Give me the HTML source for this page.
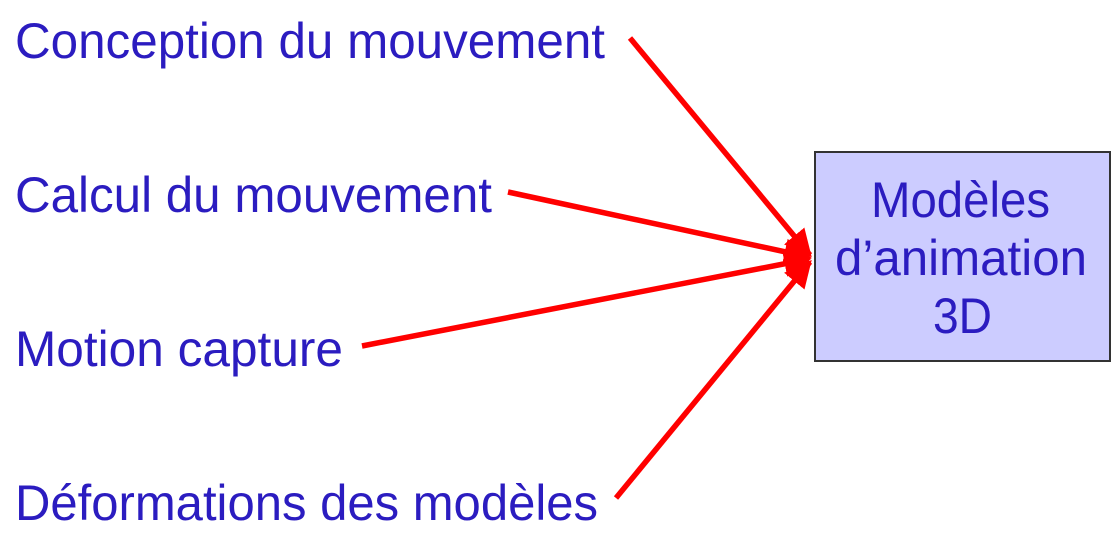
<!DOCTYPE html>
<html><head><meta charset="utf-8"><style>
html,body{margin:0;padding:0;background:#fff;width:1112px;height:539px;overflow:hidden}
</style></head><body>
<svg width="1112" height="539" xmlns="http://www.w3.org/2000/svg" style="display:block">
<defs>
<marker id="a" markerWidth="6" markerHeight="6" refX="4.5" refY="3" orient="auto" markerUnits="strokeWidth">
<path d="M0,0.6 L5,3 L0,5.4 Z" fill="#ff0000"/>
</marker>
</defs>
<rect x="815" y="152" width="295" height="209" fill="#ccccff" stroke="#333" stroke-width="2"/>
<g stroke="#ff0000" stroke-width="5.5" fill="none">
<line x1="630" y1="38" x2="810" y2="255" marker-end="url(#a)"/>
<line x1="508" y1="192" x2="809" y2="257" marker-end="url(#a)"/>
<line x1="362" y1="346" x2="809" y2="259" marker-end="url(#a)"/>
<line x1="616" y1="498" x2="810" y2="262" marker-end="url(#a)"/>
</g>
<g fill="#2b1cc0" font-family="Liberation Sans, sans-serif" font-size="50">
<text x="15" y="58" textLength="590" lengthAdjust="spacingAndGlyphs">Conception du mouvement</text>
<text x="15" y="212" textLength="477" lengthAdjust="spacingAndGlyphs">Calcul du mouvement</text>
<text x="15" y="366" textLength="328" lengthAdjust="spacingAndGlyphs">Motion capture</text>
<text x="15" y="520" textLength="583" lengthAdjust="spacingAndGlyphs">Déformations des modèles</text>
<text x="871" y="217" textLength="179" lengthAdjust="spacingAndGlyphs">Modèles</text>
<text x="835" y="275" textLength="252" lengthAdjust="spacingAndGlyphs">d’animation</text>
<text x="933" y="333" textLength="59" lengthAdjust="spacingAndGlyphs">3D</text>
</g>
</svg>
</body></html>
